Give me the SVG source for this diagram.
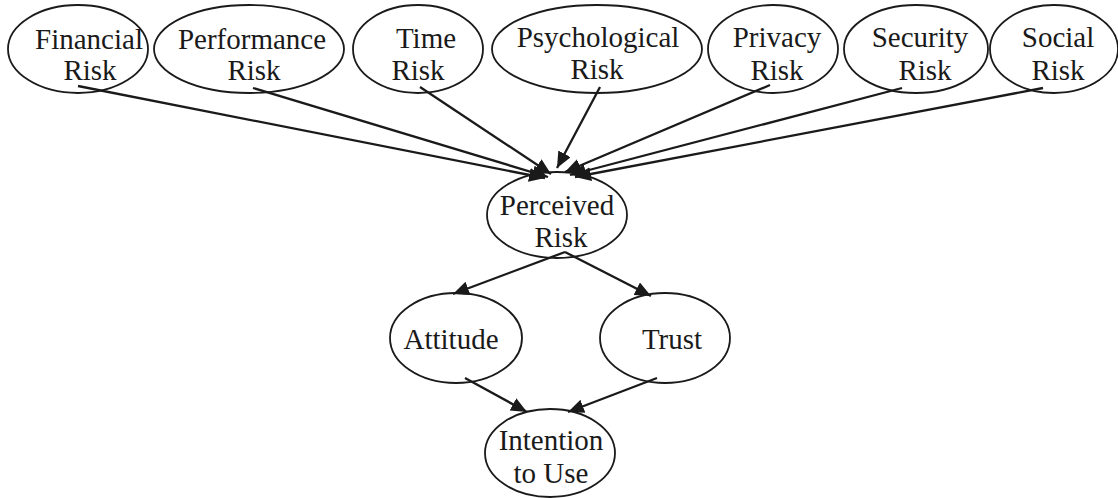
<svg xmlns="http://www.w3.org/2000/svg" width="1118" height="498" viewBox="0 0 1118 498">
<style>
.n ellipse{fill:none;stroke:#1a1a1a;stroke-width:1.8}
.n text{font-family:"Liberation Serif","Times New Roman",serif;font-size:29px;fill:#1a1a1a;text-anchor:middle}
#edges line{stroke:#1a1a1a;stroke-width:2.3;marker-end:url(#ah)}
</style>
<defs>
<marker id="ah" markerUnits="userSpaceOnUse" markerWidth="18" markerHeight="16" refX="16" refY="7" orient="auto">
<path d="M0,0 L16,7 L0,14 z" fill="#1a1a1a"/>
</marker>
</defs>
<rect width="1118" height="498" fill="#fff"/>
<g id="edges">
<line x1="78" y1="86" x2="545" y2="178"/>
<line x1="253" y1="88" x2="548" y2="177"/>
<line x1="420" y1="87" x2="551" y2="174"/>
<line x1="600" y1="87" x2="557" y2="168"/>
<line x1="770" y1="85" x2="565" y2="172"/>
<line x1="902" y1="88" x2="570" y2="175"/>
<line x1="1043" y1="88" x2="575" y2="177"/>
<line x1="565" y1="252" x2="453" y2="294"/>
<line x1="565" y1="252" x2="651" y2="296"/>
<line x1="465" y1="378" x2="527" y2="412"/>
<line x1="657" y1="378" x2="568" y2="412"/>
</g>
<g id="financial" class="n"><ellipse cx="78" cy="49" rx="70" ry="44"/><text x="89" y="49">Financial</text><text x="90" y="80">Risk</text></g>
<g id="performance" class="n"><ellipse cx="249" cy="49" rx="95" ry="44"/><text x="252" y="49">Performance</text><text x="254" y="80">Risk</text></g>
<g id="time" class="n"><ellipse cx="418" cy="49" rx="65" ry="44"/><text x="426" y="48">Time</text><text x="418" y="80">Risk</text></g>
<g id="psychological" class="n"><ellipse cx="597" cy="49" rx="105" ry="44"/><text x="598" y="47">Psychological</text><text x="597" y="79">Risk</text></g>
<g id="privacy" class="n"><ellipse cx="773" cy="49" rx="65" ry="44"/><text x="777" y="47">Privacy</text><text x="777" y="80">Risk</text></g>
<g id="security" class="n"><ellipse cx="916" cy="49" rx="72" ry="44"/><text x="920" y="47">Security</text><text x="925" y="80">Risk</text></g>
<g id="social" class="n"><ellipse cx="1054" cy="49" rx="64" ry="44"/><text x="1058" y="47">Social</text><text x="1058" y="80">Risk</text></g>
<g id="perceived" class="n"><ellipse cx="557" cy="215" rx="70" ry="43"/><text x="557" y="215">Perceived</text><text x="561" y="247">Risk</text></g>
<g id="attitude" class="n"><ellipse cx="456" cy="338" rx="66" ry="45"/><text x="451" y="349">Attitude</text></g>
<g id="trust" class="n"><ellipse cx="665" cy="338" rx="65" ry="45"/><text x="672" y="349">Trust</text></g>
<g id="intention" class="n"><ellipse cx="550" cy="453" rx="65" ry="44"/><text x="551" y="450">Intention</text><text x="551" y="483">to Use</text></g>
</svg>
